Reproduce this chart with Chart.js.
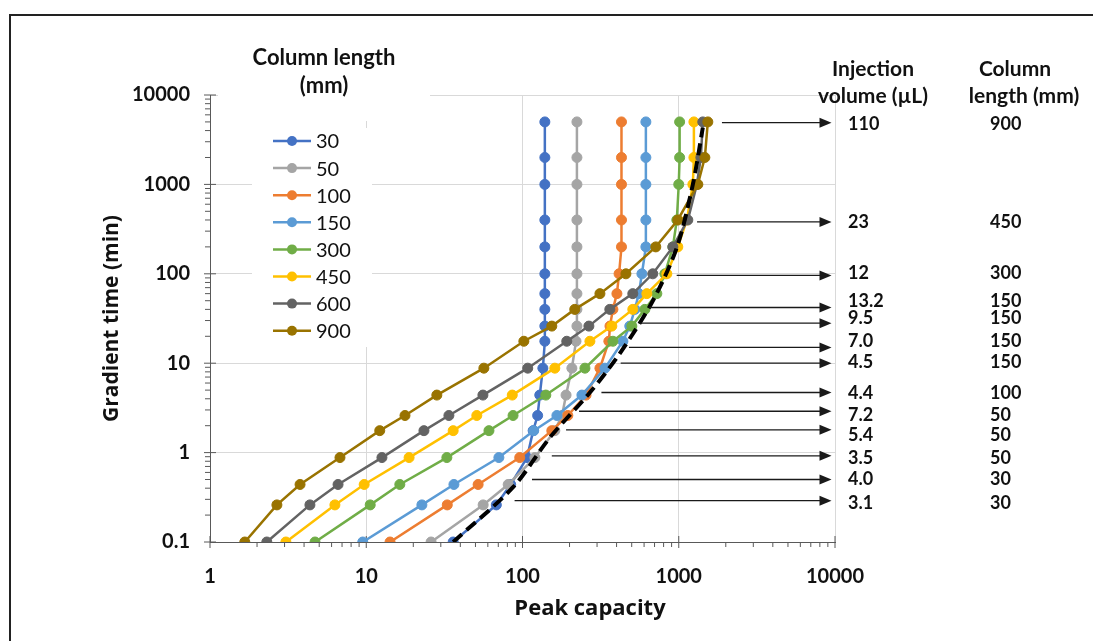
<!DOCTYPE html>
<html>
<head>
<meta charset="utf-8">
<script src="https://cdn.jsdelivr.net/npm/chart.js@4/dist/chart.umd.min.js"></script>
<style>
  html, body { margin: 0; padding: 0; background: #fff; }
  #wrap { position: relative; width: 1093px; height: 641px; }
</style>
</head>
<body>
<div id="wrap"><canvas id="chart"></canvas></div>
<script>
// gradient time (min) of every point, shared by all column lengths
const gradientTimes = [0.1, 0.26, 0.44, 0.88, 1.76, 2.6, 4.4, 8.8, 17.6, 26, 40, 60, 100, 200, 400, 1000, 2000, 5000];

// column lengths (mm) shown in the legend
const columnLengths = ["30", "50", "100", "150", "300", "450", "600", "900"];

// peak capacity per column length, same order as gradientTimes
const cap30 = [36, 68, 84, 107, 117, 125, 129, 135, 139, 139, 139, 139, 139, 139, 139, 139, 139, 139];
const cap50 = [26, 56, 81, 120, 161, 179, 190, 207, 220, 223, 223, 223, 223, 223, 223, 223, 223, 223];
const cap100 = [14.2, 33, 52, 96, 154, 195, 255, 313, 357, 363, 379, 402, 415, 430, 430, 430, 430, 430];
const cap150 = [9.5, 22.7, 36.4, 70.6, 118, 166, 240, 337, 439, 486, 524, 555, 581, 616, 616, 616, 616, 616];
const cap300 = [4.7, 10.6, 16.4, 32.8, 61, 87, 141, 251, 379, 501, 607, 724, 815, 917, 972, 1000, 1013, 1013];
const cap450 = [3.06, 6.3, 9.7, 18.8, 36, 51, 86, 161, 270, 373, 508, 625, 839, 986, 1127, 1231, 1250, 1250];
const cap600 = [2.31, 4.36, 6.6, 12.6, 23.4, 33.8, 55.8, 108, 192, 266, 362, 508, 682, 917, 1143, 1306, 1385, 1425];
const cap900 = [1.67, 2.68, 3.77, 6.79, 12.2, 17.7, 28.3, 56.6, 102, 154, 216, 313, 459, 713, 986, 1325, 1469, 1535];

// black dashed envelope (best peak capacity)
const envelopeCapacity = [36, 87, 150, 270, 420, 683, 972, 1231, 1425];
const envelopeTime = [0.1, 0.41, 1.48, 4.7, 12.9, 50, 197, 1000, 4300];

// arrows on the right: gradient time, start peak capacity, labels
const arrowTimes = [4900, 380, 96, 42, 28, 15, 10, 4.7, 2.9, 1.8, 0.92, 0.5, 0.29];
const arrowFrom = [1890, 1310, 970, 650, 555, 480, 425, 320, 230, 190, 154, 115, 89];
const arrowTo = 9500;
const injectionVolumes = ["110", "23", "12", "13.2", "9.5", "7.0", "4.5", "4.4", "7.2", "5.4", "3.5", "4.0", "3.1"];
const bestColumnLengths = ["900", "450", "300", "150", "150", "150", "150", "100", "50", "50", "50", "30", "30"];

// axis tick labels
const xTickValues = [1, 10, 100, 1000, 10000];
const yTickValues = [0.1, 1, 10, 100, 1000, 10000];

const seriesValues = [cap30, cap50, cap100, cap150, cap300, cap450, cap600, cap900];
const colors = ["#4472C4", "#A5A5A5", "#ED7D31", "#5B9BD5", "#70AD47", "#FFC000", "#636363", "#997300"];

// small offsets so the right-hand labels don't collide (layout only)
const labelNudge = [1, 0, -2, -6, -5, -6, -1, 1, 4, 5, 2, 0, 3];

const datasets = seriesValues.map((vals, i) => ({
  label: columnLengths[i],
  data: vals.map((v, j) => ({ x: v, y: gradientTimes[j] })),
  borderColor: colors[i],
  backgroundColor: colors[i],
  borderWidth: 2.5,
  pointRadius: 5,
  pointBorderWidth: 1,
  showLine: true,
  tension: 0,
  order: seriesValues.length - i,
}));

datasets.push({
  label: "envelope",
  data: envelopeCapacity.map((v, j) => ({ x: v, y: envelopeTime[j] })),
  borderColor: "#000",
  borderWidth: 4,
  borderDash: [12, 6],
  pointRadius: 0,
  showLine: true,
  tension: 0.3,
  order: 0,
});

const LABEL_FONT = "Lato";
const TITLE_FONT = "'Open Sans'";

const decor = {
  id: "decor",
  beforeDraw(chart) {
    const ctx = chart.ctx;
    ctx.save();
    ctx.fillStyle = "#fff";
    ctx.fillRect(0, 0, chart.width, chart.height);
    ctx.strokeStyle = "#222";
    ctx.lineWidth = 2;
    ctx.strokeRect(10, 15, chart.width + 20, chart.height + 20);
    ctx.restore();
  },
  beforeDatasetsDraw(chart) {
    const ctx = chart.ctx;
    const xs = chart.scales.x;
    const ys = chart.scales.y;
    const area = chart.chartArea;
    ctx.save();
    // boxes of the legend title and legend hide the grid
    ctx.fillStyle = "#fff";
    ctx.fillRect(218, 40, 212, 81);
    ctx.fillRect(252, 128, 120, 219);

    // tick marks
    ctx.strokeStyle = "#595959";
    ctx.lineWidth = 1;
    ctx.beginPath();
    for (let d = 0; d <= 4; d++) {
      const base = Math.pow(10, d);
      const px = xs.getPixelForValue(base);
      ctx.moveTo(px, area.bottom - 6);
      ctx.lineTo(px, area.bottom + 6);
      if (d < 4) {
        for (let m = 2; m <= 9; m++) {
          const p = xs.getPixelForValue(base * m);
          ctx.moveTo(p, area.bottom);
          ctx.lineTo(p, area.bottom + 5);
        }
      }
    }
    for (let d = -1; d <= 4; d++) {
      const base = Math.pow(10, d);
      const py = ys.getPixelForValue(base);
      ctx.moveTo(area.left - 6, py);
      ctx.lineTo(area.left + 6, py);
      if (d < 4) {
        for (let m = 2; m <= 9; m++) {
          const p = ys.getPixelForValue(base * m);
          ctx.moveTo(area.left - 5, p);
          ctx.lineTo(area.left, p);
        }
      }
    }
    ctx.stroke();
    ctx.restore();
  },
  afterDatasetsDraw(chart) {
    const ctx = chart.ctx;
    const xs = chart.scales.x;
    const ys = chart.scales.y;
    const area = chart.chartArea;
    ctx.save();

    // arrows
    ctx.strokeStyle = "#1a1a1a";
    ctx.fillStyle = "#1a1a1a";
    ctx.lineWidth = 1.3;
    const x2 = xs.getPixelForValue(arrowTo);
    arrowTimes.forEach((t, i) => {
      const y = ys.getPixelForValue(t);
      const x1 = xs.getPixelForValue(arrowFrom[i]);
      ctx.beginPath();
      ctx.moveTo(x1, y);
      ctx.lineTo(x2 - 10, y);
      ctx.stroke();
      ctx.beginPath();
      ctx.moveTo(x2, y);
      ctx.lineTo(x2 - 12, y - 5);
      ctx.lineTo(x2 - 12, y + 5);
      ctx.closePath();
      ctx.fill();
    });

    // right-hand labels
    ctx.fillStyle = "#111";
    ctx.textBaseline = "middle";
    ctx.textAlign = "left";
    ctx.font = "bold 18px " + LABEL_FONT;
    arrowTimes.forEach((t, i) => {
      const y = ys.getPixelForValue(t) + labelNudge[i];
      ctx.fillText(injectionVolumes[i], area.right + 13, y);
      ctx.fillText(bestColumnLengths[i], area.right + 155, y);
    });

    ctx.font = "bold 21px " + LABEL_FONT;
    ctx.textAlign = "center";
    ctx.fillText("Injection", 873, 69);
    ctx.fillText("volume (µL)", 873, 96);
    ctx.fillText("Column", 1015, 69);
    ctx.fillText("length (mm)", 1024, 96);
    ctx.font = "bold 22px " + LABEL_FONT;
    ctx.fillText("Column length", 324, 58);
    ctx.fillText("(mm)", 324, 86);

    // legend
    ctx.textAlign = "left";
    ctx.font = "20px " + LABEL_FONT;
    columnLengths.forEach((name, i) => {
      const y = 141 + i * 27.1;
      ctx.strokeStyle = colors[i];
      ctx.fillStyle = colors[i];
      ctx.lineWidth = 2.5;
      ctx.beginPath();
      ctx.moveTo(273, y);
      ctx.lineTo(311, y);
      ctx.stroke();
      ctx.beginPath();
      ctx.arc(292, y, 5, 0, Math.PI * 2);
      ctx.fill();
      ctx.fillStyle = "#111";
      ctx.fillText(name, 316, y + 1);
    });

    // axis titles
    ctx.fillStyle = "#111";
    ctx.font = "bold 22px " + TITLE_FONT;
    ctx.textAlign = "center";
    ctx.fillText("Peak capacity", 590, 609);
    ctx.save();
    ctx.translate(112, (area.top + area.bottom) / 2);
    ctx.rotate(-Math.PI / 2);
    ctx.font = "bold 21px " + TITLE_FONT;
    ctx.fillText("Gradient time (min)", 0, 0);
    ctx.restore();

    ctx.restore();
  },
};

const ctx = document.getElementById("chart").getContext("2d");
const chart = new Chart(ctx, {
  type: "scatter",
  data: { datasets: datasets },
  options: {
    responsive: true,
    maintainAspectRatio: false,
    animation: false,
    layout: { padding: { left: 0, top: 95, right: 258, bottom: 0 } },
    plugins: {
      legend: { display: false },
      tooltip: { enabled: false },
    },
    scales: {
      x: {
        type: "logarithmic",
        min: 1,
        max: 10000,
        afterBuildTicks: (s) => {
          s.ticks = xTickValues.map((v) => ({ value: v, major: true }));
        },
        afterFit: (s) => {
          s.height = 99;
        },
        ticks: {
          autoSkip: false,
          maxRotation: 0,
          padding: 23,
          color: "#111",
          font: { family: LABEL_FONT, size: 20, weight: "bold" },
          callback: (v) => String(v),
        },
        grid: { color: "#d9d9d9", drawTicks: false },
        border: { color: "#595959", width: 1 },
      },
      y: {
        type: "logarithmic",
        min: 0.1,
        max: 10000,
        afterBuildTicks: (s) => {
          s.ticks = yTickValues.map((v) => ({ value: v, major: true }));
        },
        afterFit: (s) => {
          s.width = 210;
        },
        ticks: {
          autoSkip: false,
          padding: 20,
          color: "#111",
          font: { family: LABEL_FONT, size: 20, weight: "bold" },
          callback: (v) => String(v),
        },
        grid: { color: "#d9d9d9", drawTicks: false },
        border: { color: "#595959", width: 1 },
      },
    },
  },
  plugins: [decor],
});
</script>
</body>
</html>
